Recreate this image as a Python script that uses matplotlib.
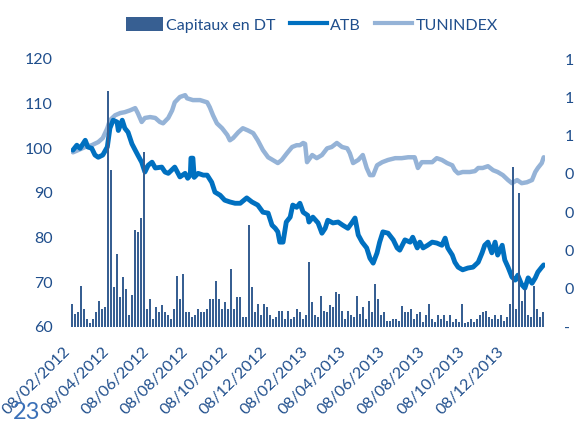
import numpy as np
import pandas as pd
import matplotlib
matplotlib.use("Agg")
import matplotlib.pyplot as plt
from matplotlib.patches import Patch
from matplotlib.lines import Line2D

plt.rcParams['font.family'] = ['Lato', 'DejaVu Sans']

# ---------------- data ----------------
start_date = pd.Timestamp('2012-02-08')
end_date = pd.Timestamp('2014-02-08')

# ATB (base 100) : days since 08/02/2012 and values
atb_days = [3, 9, 14, 22, 26, 32, 37, 42, 49, 56, 60, 65, 71, 73, 79, 83, 88, 94, 99, 103,
            109, 114, 119, 125, 130, 140, 145, 150, 160, 168, 176, 180, 184, 185, 188, 190, 196, 204, 210, 217,
            222, 230, 237, 245, 253, 261, 271, 279, 288, 296, 304, 310, 315, 319, 322, 327, 332, 338, 342, 348,
            353, 358, 365, 367, 373, 381, 387, 392, 396, 404, 412, 419, 427, 433, 438, 443, 449, 456, 461, 466,
            472, 476, 481, 489, 497, 503, 507, 515, 523, 527, 534, 538, 543, 550, 557, 564, 572, 577, 581, 588,
            592, 597, 604, 612, 620, 628, 634, 638, 643, 649, 654, 658, 665, 669, 674, 680, 685, 689, 695, 700,
            705, 711, 716, 720, 726, 729]
atb_values = [99.6, 100.7, 100.0, 101.8, 100.3, 100.0, 98.5, 98.0, 98.5, 100.3, 104.5, 106.3, 105.9, 104.0, 106.3, 104.5, 103.6, 101.0, 99.6, 98.5,
              96.9, 94.7, 96.2, 96.9, 95.6, 95.8, 94.7, 94.4, 95.8, 93.6, 94.4, 93.3, 94.0, 97.8, 97.8, 93.5, 94.4, 94.0, 94.0, 92.4,
              90.2, 89.5, 88.4, 88.0, 87.7, 87.7, 88.9, 88.0, 87.3, 85.7, 85.5, 82.8, 82.1, 81.3, 79.0, 79.0, 83.5, 84.6, 87.3, 86.8,
              87.7, 85.7, 85.0, 83.5, 84.6, 83.3, 81.0, 82.1, 83.9, 83.3, 83.5, 82.8, 82.1, 83.3, 84.4, 80.6, 79.0, 77.7, 75.4, 74.3,
              76.6, 79.0, 81.3, 81.0, 79.5, 77.7, 77.2, 79.5, 79.0, 80.1, 77.7, 79.0, 77.7, 78.3, 79.0, 78.8, 78.3, 79.9, 77.7, 76.1,
              74.5, 73.4, 72.8, 73.2, 73.4, 74.5, 76.6, 78.3, 79.0, 76.6, 79.0, 76.1, 78.3, 75.0, 73.4, 71.2, 70.5, 71.6, 69.5, 68.7,
              71.0, 69.8, 71.0, 72.3, 73.4, 73.9]

# TUNINDEX (base 100)
tun_days = [3, 11, 22, 32, 42, 49, 56, 60, 68, 76, 83, 91, 99, 103, 109, 114, 122, 130, 137, 142,
            150, 156, 160, 168, 176, 179, 188, 199, 210, 214, 219, 225, 233, 241, 245, 250, 258, 265, 273, 281,
            288, 296, 304, 311, 319, 325, 333, 341, 348, 353, 358, 361, 364, 372, 379, 387, 395, 402, 410, 418,
            426, 430, 435, 443, 450, 456, 461, 466, 472, 480, 489, 500, 510, 520, 527, 530, 535, 541, 549, 557,
            564, 572, 580, 588, 592, 597, 604, 615, 623, 628, 635, 643, 651, 658, 666, 674, 680, 688, 695, 703,
            711, 716, 720, 726, 729]
tun_values = [99.1, 99.6, 100.3, 100.7, 101.4, 102.3, 104.5, 106.3, 107.4, 107.9, 108.1, 108.5, 109.0, 107.9, 105.9, 106.8, 107.0, 106.8, 105.9, 105.6,
              106.8, 108.5, 110.3, 111.5, 111.9, 111.2, 110.8, 110.8, 110.3, 109.2, 107.4, 105.6, 104.5, 103.0, 101.8, 102.3, 103.6, 104.5, 104.0, 103.4,
              101.8, 99.6, 98.0, 97.4, 96.7, 97.4, 98.9, 100.3, 100.7, 100.7, 101.2, 101.0, 96.9, 98.5, 97.8, 98.5, 100.0, 100.3, 101.2, 100.3,
              100.0, 98.9, 96.7, 97.4, 98.5, 95.6, 94.0, 94.0, 96.2, 96.9, 97.4, 97.8, 97.8, 98.0, 98.0, 98.0, 95.6, 96.9, 96.9, 96.9,
              97.8, 97.4, 96.7, 96.2, 95.1, 94.4, 94.7, 94.7, 94.9, 95.6, 95.6, 96.0, 95.1, 94.7, 94.0, 92.9, 92.2, 92.9, 92.2, 92.4,
              92.9, 94.7, 95.6, 96.7, 98.0]

# Capitaux échangés (milliers de DT), sampled regularly over the period
capitaux_k = [119, 67, 78, 213, 93, 41, 21, 41, 78, 135,
              93, 104, 1234, 819, 207, 379, 156, 259, 197, 62,
              166, 508, 498, 570, 913, 93, 145, 41, 104, 78,
              114, 78, 62, 41, 93, 264, 145, 275, 78, 78,
              52, 62, 93, 78, 78, 93, 145, 145, 239, 145,
              93, 130, 93, 301, 93, 156, 156, 52, 52, 534,
              207, 78, 119, 62, 119, 104, 62, 41, 52, 83,
              83, 41, 83, 41, 52, 93, 78, 41, 62, 337,
              130, 62, 52, 161, 83, 78, 114, 104, 181, 171,
              83, 41, 83, 62, 52, 161, 67, 104, 41, 135,
              78, 223, 145, 62, 78, 31, 31, 41, 41, 31,
              109, 78, 78, 93, 41, 67, 78, 26, 62, 119,
              41, 26, 62, 41, 62, 31, 62, 26, 41, 26,
              119, 21, 26, 41, 26, 41, 62, 78, 83, 52,
              41, 62, 41, 62, 31, 52, 119, 835, 93, 700,
              135, 197, 62, 52, 213, 93, 52, 78]

x_tick_labels = ['08/02/2012', '08/04/2012', '08/06/2012', '08/08/2012', '08/10/2012', '08/12/2012',
                 '08/02/2013', '08/04/2013', '08/06/2013', '08/08/2013', '08/10/2013', '08/12/2013']
left_ticks = [60, 70, 80, 90, 100, 110, 120]
right_ticks = [0, 200000, 400000, 600000, 800000, 1000000, 1200000, 1400000]
right_tick_labels = ['-', '0', '0', '0', '0', '1', '1', '1']

series_labels = ['Capitaux en DT', 'ATB', 'TUNINDEX']

# ---------------- style ----------------
c_bar = '#375F92'
c_atb = '#0070C0'
c_tun = '#95B3D7'
c_text = '#1F4E8C'

W, H = 577, 425
fig = plt.figure(figsize=(W / 100, H / 100), dpi=100)
ax = fig.add_axes([71 / W, 1 - 327 / H, (545 - 71) / W, (327 - 59) / H])
ax2 = ax.twinx()

total_days = (end_date - start_date).days
bar_days = np.linspace(1.5, total_days - 3, len(capitaux_k))
bar_vals = np.array(capitaux_k) * 1000.0

ax.plot(tun_days, tun_values, color=c_tun, lw=3.2, solid_joinstyle='round', solid_capstyle='round', zorder=2)
ax.plot(atb_days, atb_values, color=c_atb, lw=3.5, solid_joinstyle='round', solid_capstyle='round', zorder=3)
ax2.bar(bar_days, bar_vals, width=3.0, color=c_bar, linewidth=0, zorder=1)

ax.set_xlim(0, total_days)
ax.set_ylim(60, 120)
ax2.set_ylim(0, 1400000)

tick_days = [(pd.to_datetime(s, format='%d/%m/%Y') - start_date).days for s in x_tick_labels]
ax.set_xticks(tick_days)
ax.set_xticklabels(x_tick_labels, rotation=45, ha='right', va='baseline',
                   rotation_mode='anchor', fontsize=11.5, color=c_text)
ax.tick_params(axis='x', length=0, pad=18)

ax.set_yticks(left_ticks)
ax.set_yticklabels([str(v) for v in left_ticks])
ax.tick_params(axis='y', length=0, pad=13, labelsize=11.5, labelcolor=c_text)

ax2.set_yticks(right_ticks)
ax2.set_yticklabels(right_tick_labels)
ax2.tick_params(axis='y', length=0, pad=14, labelsize=11.5, labelcolor=c_text)

for a in (ax, ax2):
    for s in a.spines.values():
        s.set_visible(False)
    a.patch.set_visible(False)

handles = [Patch(facecolor=c_bar, edgecolor='none'),
           Line2D([0], [0], color=c_atb, lw=3),
           Line2D([0], [0], color=c_tun, lw=3)]
fig.legend(handles, series_labels, loc='center', bbox_to_anchor=(312 / W, 1 - 25 / H),
           ncol=3, frameon=False, fontsize=11.5, handlelength=2.3, handleheight=0.9,
           handletextpad=0.2, columnspacing=0.9, labelcolor=c_text)

fig.text(13 / W, 1 - 402 / H, '23', fontsize=17, color='#3A70B8', va='top', ha='left')

fig.savefig('out.png', dpi=100)
